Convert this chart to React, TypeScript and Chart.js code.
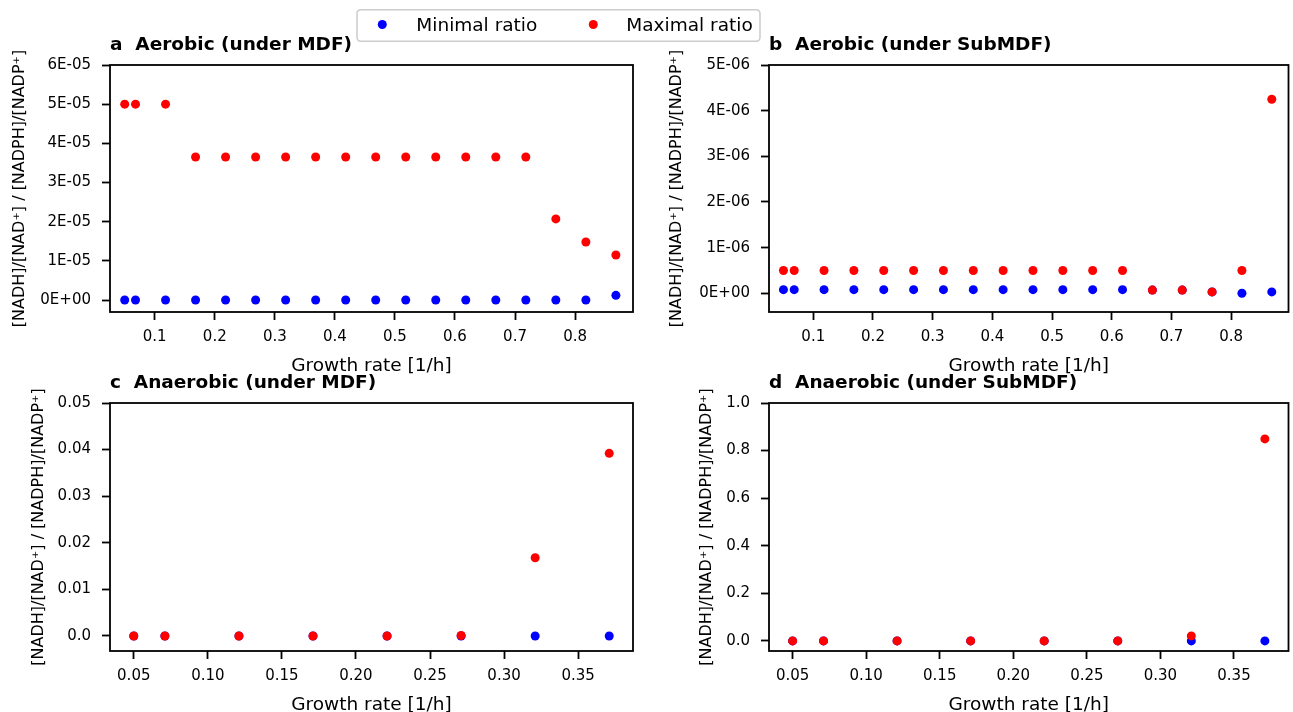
import React, { useEffect, useRef } from "react";
import { Chart, registerables } from "chart.js";

Chart.register(...registerables);

// ---------------- data ----------------
const xAerobic = [0.05, 0.068, 0.118, 0.168, 0.218, 0.268, 0.318, 0.368, 0.418, 0.468, 0.518, 0.568, 0.618, 0.668, 0.718, 0.768, 0.818, 0.868];
const aMinRatio = [0, 0, 0, 0, 0, 0, 0, 0, 0, 0, 0, 0, 0, 0, 0, 0, 0, 1.2e-6];
const aMaxRatio = [5.0e-5, 5.0e-5, 5.0e-5, 3.65e-5, 3.65e-5, 3.65e-5, 3.65e-5, 3.65e-5, 3.65e-5, 3.65e-5, 3.65e-5, 3.65e-5, 3.65e-5, 3.65e-5, 3.65e-5, 2.07e-5, 1.48e-5, 1.15e-5];
const bMinRatio = [0.08e-6, 0.08e-6, 0.08e-6, 0.08e-6, 0.08e-6, 0.08e-6, 0.08e-6, 0.08e-6, 0.08e-6, 0.08e-6, 0.08e-6, 0.08e-6, 0.08e-6, 0.07e-6, 0.07e-6, 0.03e-6, 0.0, 0.03e-6];
const bMaxRatio = [0.5e-6, 0.5e-6, 0.5e-6, 0.5e-6, 0.5e-6, 0.5e-6, 0.5e-6, 0.5e-6, 0.5e-6, 0.5e-6, 0.5e-6, 0.5e-6, 0.5e-6, 0.07e-6, 0.07e-6, 0.03e-6, 0.5e-6, 4.25e-6];

const xAnaerobic = [0.05, 0.071, 0.121, 0.171, 0.221, 0.271, 0.321, 0.371];
const cMinRatio = [0, 0, 0, 0, 0, 0, 0, 0];
const cMaxRatio = [0, 0, 0, 0, 0, 0.0001, 0.0168, 0.0392];
const dMinRatio = [0, 0, 0, 0, 0, 0, 0, 0];
const dMaxRatio = [0, 0, 0, 0, 0, 0, 0.021, 0.849];

const aYTicks = [0, 1e-5, 2e-5, 3e-5, 4e-5, 5e-5, 6e-5];
const aYTickLabels = ["0E+00", "1E-05", "2E-05", "3E-05", "4E-05", "5E-05", "6E-05"];
const bYTicks = [0, 1e-6, 2e-6, 3e-6, 4e-6, 5e-6];
const bYTickLabels = ["0E+00", "1E-06", "2E-06", "3E-06", "4E-06", "5E-06"];
const cYTicks = [0, 0.01, 0.02, 0.03, 0.04, 0.05];
const cYTickLabels = ["0.0", "0.01", "0.02", "0.03", "0.04", "0.05"];
const dYTicks = [0, 0.2, 0.4, 0.6, 0.8, 1.0];
const dYTickLabels = ["0.0", "0.2", "0.4", "0.6", "0.8", "1.0"];
const aerobicXTicks = [0.1, 0.2, 0.3, 0.4, 0.5, 0.6, 0.7, 0.8];
const aerobicXTickLabels = ["0.1", "0.2", "0.3", "0.4", "0.5", "0.6", "0.7", "0.8"];
const anaerobicXTicks = [0.05, 0.1, 0.15, 0.2, 0.25, 0.3, 0.35];
const anaerobicXTickLabels = ["0.05", "0.10", "0.15", "0.20", "0.25", "0.30", "0.35"];

const seriesNames = ["Minimal ratio", "Maximal ratio"];
const panelLetters = ["a", "b", "c", "d"];
const panelTitles = ["Aerobic (under MDF)", "Aerobic (under SubMDF)", "Anaerobic (under MDF)", "Anaerobic (under SubMDF)"];
const xAxisTitle = "Growth rate [1/h]";
const yAxisTitle = "[NADH]/[NAD\u207A] / [NADPH]/[NADP\u207A]";

// ---------------- layout ----------------
const W = 1293;
const H = 712;
const FONT = "'DejaVu Sans', sans-serif";
const BLUE = "#0000ff";
const RED = "#ff0000";

type Panel = {
  letter: string;
  title: string;
  x: number[];
  minV: number[];
  maxV: number[];
  xMin: number;
  xMax: number;
  yMin: number;
  yMax: number;
  xTicks: number[];
  xTickLabels: string[];
  yTicks: number[];
  yTickLabels: string[];
  frame: { l: number; t: number; r: number; b: number };
  ylabelX: number;
  legend: boolean;
};

const panels: Panel[] = [
  {
    letter: panelLetters[0], title: panelTitles[0], x: xAerobic, minV: aMinRatio, maxV: aMaxRatio,
    xMin: 0.0255, xMax: 0.8965, yMin: -3.06e-6, yMax: 6e-5,
    xTicks: aerobicXTicks, xTickLabels: aerobicXTickLabels, yTicks: aYTicks, yTickLabels: aYTickLabels,
    frame: { l: 110, t: 65, r: 633, b: 312 }, ylabelX: 20, legend: true,
  },
  {
    letter: panelLetters[1], title: panelTitles[1], x: xAerobic, minV: bMinRatio, maxV: bMaxRatio,
    xMin: 0.0258, xMax: 0.896, yMin: -4.1e-7, yMax: 5e-6,
    xTicks: aerobicXTicks, xTickLabels: aerobicXTickLabels, yTicks: bYTicks, yTickLabels: bYTickLabels,
    frame: { l: 769, t: 65, r: 1291, b: 312 }, ylabelX: 677, legend: false,
  },
  {
    letter: panelLetters[2], title: panelTitles[2], x: xAnaerobic, minV: cMinRatio, maxV: cMaxRatio,
    xMin: 0.03395, xMax: 0.38705, yMin: -0.00322, yMax: 0.05,
    xTicks: anaerobicXTicks, xTickLabels: anaerobicXTickLabels, yTicks: cYTicks, yTickLabels: cYTickLabels,
    frame: { l: 110, t: 403, r: 633, b: 651 }, ylabelX: 39, legend: false,
  },
  {
    letter: panelLetters[3], title: panelTitles[3], x: xAnaerobic, minV: dMinRatio, maxV: dMaxRatio,
    xMin: 0.03395, xMax: 0.38705, yMin: -0.04245, yMax: 1.0,
    xTicks: anaerobicXTicks, xTickLabels: anaerobicXTickLabels, yTicks: dYTicks, yTickLabels: dYTickLabels,
    frame: { l: 769, t: 403, r: 1291, b: 651 }, ylabelX: 707, legend: false,
  },
];

function drawLegend(ctx: CanvasRenderingContext2D) {
  ctx.save();
  const x0 = 357, y0 = 9.7, x1 = 760, y1 = 41.3, r = 4;
  ctx.beginPath();
  ctx.moveTo(x0 + r, y0);
  ctx.lineTo(x1 - r, y0);
  ctx.quadraticCurveTo(x1, y0, x1, y0 + r);
  ctx.lineTo(x1, y1 - r);
  ctx.quadraticCurveTo(x1, y1, x1 - r, y1);
  ctx.lineTo(x0 + r, y1);
  ctx.quadraticCurveTo(x0, y1, x0, y1 - r);
  ctx.lineTo(x0, y0 + r);
  ctx.quadraticCurveTo(x0, y0, x0 + r, y0);
  ctx.closePath();
  ctx.fillStyle = "rgba(255,255,255,0.8)";
  ctx.fill();
  ctx.strokeStyle = "#cccccc";
  ctx.lineWidth = 1.5;
  ctx.stroke();

  const items = [
    { c: BLUE, mx: 382.3, tx: 416.3, label: seriesNames[0] },
    { c: RED, mx: 593.3, tx: 626.3, label: seriesNames[1] },
  ];
  ctx.font = `18.5px ${FONT}`;
  ctx.textAlign = "left";
  ctx.textBaseline = "alphabetic";
  for (const it of items) {
    ctx.beginPath();
    ctx.arc(it.mx, 24.5, 4.5, 0, Math.PI * 2);
    ctx.fillStyle = it.c;
    ctx.fill();
    ctx.fillStyle = "#000";
    ctx.fillText(it.label, it.tx, 30.8);
  }
  ctx.restore();
}

function decorPlugin(p: Panel) {
  return {
    id: "decor" + p.letter,
    afterDraw(chart: any) {
      const ctx: CanvasRenderingContext2D = chart.ctx;
      const { left, top, right, bottom } = chart.chartArea;
      ctx.save();
      // frame
      ctx.strokeStyle = "#000";
      ctx.lineWidth = 1.8;
      ctx.strokeRect(left, top, right - left, bottom - top);
      // title
      ctx.fillStyle = "#000";
      ctx.font = `bold 18.5px ${FONT}`;
      ctx.textAlign = "left";
      ctx.textBaseline = "alphabetic";
      ctx.fillText(p.letter + "  " + p.title, left, top - 15);
      // x title
      ctx.font = `18.5px ${FONT}`;
      ctx.textAlign = "center";
      ctx.fillText(xAxisTitle, (left + right) / 2, bottom + 58.5);
      // y title
      ctx.save();
      ctx.translate(p.ylabelX, (top + bottom) / 2);
      ctx.rotate(-Math.PI / 2);
      ctx.font = `16px ${FONT}`;
      ctx.textAlign = "center";
      ctx.textBaseline = "middle";
      ctx.fillText(yAxisTitle, 0, 0);
      ctx.restore();
      ctx.restore();
      if (p.legend) drawLegend(ctx);
    },
  };
}

function zeroPad(s: any) {
  s.paddingLeft = 0;
  s.paddingRight = 0;
  s.paddingTop = 0;
  s.paddingBottom = 0;
}

function buildChart(canvas: HTMLCanvasElement, p: Panel) {
  const tickFont = { family: FONT, size: 15 };
  const grid = {
    display: true,
    drawOnChartArea: false,
    drawTicks: true,
    tickLength: 8,
    tickWidth: 1.8,
    tickColor: "#000",
    color: "#000",
  };
  return new Chart(canvas, {
    type: "scatter",
    data: {
      datasets: [
        {
          label: seriesNames[0],
          data: p.x.map((x, i) => ({ x, y: p.minV[i] })),
          backgroundColor: BLUE,
          borderColor: BLUE,
          borderWidth: 0,
          pointRadius: 4.5,
          order: 1,
        },
        {
          label: seriesNames[1],
          data: p.x.map((x, i) => ({ x, y: p.maxV[i] })),
          backgroundColor: RED,
          borderColor: RED,
          borderWidth: 0,
          pointRadius: 4.5,
          order: 0,
        },
      ],
    },
    options: {
      animation: false,
      responsive: false,
      devicePixelRatio: 1,
      events: [],
      layout: { padding: { left: 0, top: p.frame.t, right: W - p.frame.r, bottom: 0 } },
      plugins: { legend: { display: false }, tooltip: { enabled: false }, title: { display: false } },
      scales: {
        x: {
          type: "linear",
          position: "bottom",
          min: p.xMin,
          max: p.xMax,
          afterBuildTicks: (s: any) => {
            s.ticks = p.xTicks.map((v) => ({ value: v }));
          },
          afterFit: (s: any) => {
            s.height = H - p.frame.b;
            zeroPad(s);
          },
          ticks: {
            autoSkip: false,
            maxRotation: 0,
            minRotation: 0,
            padding: 8,
            color: "#000",
            font: tickFont,
            callback: (_v: any, i: number) => p.xTickLabels[i],
          },
          grid,
          border: { display: false },
        },
        y: {
          type: "linear",
          position: "left",
          min: p.yMin,
          max: p.yMax,
          afterBuildTicks: (s: any) => {
            s.ticks = p.yTicks.map((v) => ({ value: v }));
          },
          afterFit: (s: any) => {
            s.width = p.frame.l;
            zeroPad(s);
          },
          ticks: {
            autoSkip: false,
            padding: 11,
            color: "#000",
            font: tickFont,
            callback: (_v: any, i: number) => p.yTickLabels[i],
          },
          grid,
          border: { display: false },
        },
      },
    },
    plugins: [decorPlugin(p)],
  } as any);
}

function PanelCanvas({ p }: { p: Panel }) {
  const ref = useRef<HTMLCanvasElement | null>(null);
  useEffect(() => {
    if (!ref.current) return;
    const chart = buildChart(ref.current, p);
    return () => chart.destroy();
  }, [p]);
  return (
    <canvas
      ref={ref}
      width={W}
      height={H}
      style={{ position: "absolute", left: 0, top: 0, width: W, height: H }}
    />
  );
}

export default function App() {
  useEffect(() => {
    document.body.style.margin = "0";
    document.body.style.background = "#fff";
  }, []);
  return (
    <div style={{ position: "fixed", left: 0, top: 0, width: W, height: H, background: "#fff", overflow: "hidden" }}>
      {panels.map((p) => (
        <PanelCanvas key={p.letter} p={p} />
      ))}
    </div>
  );
}
